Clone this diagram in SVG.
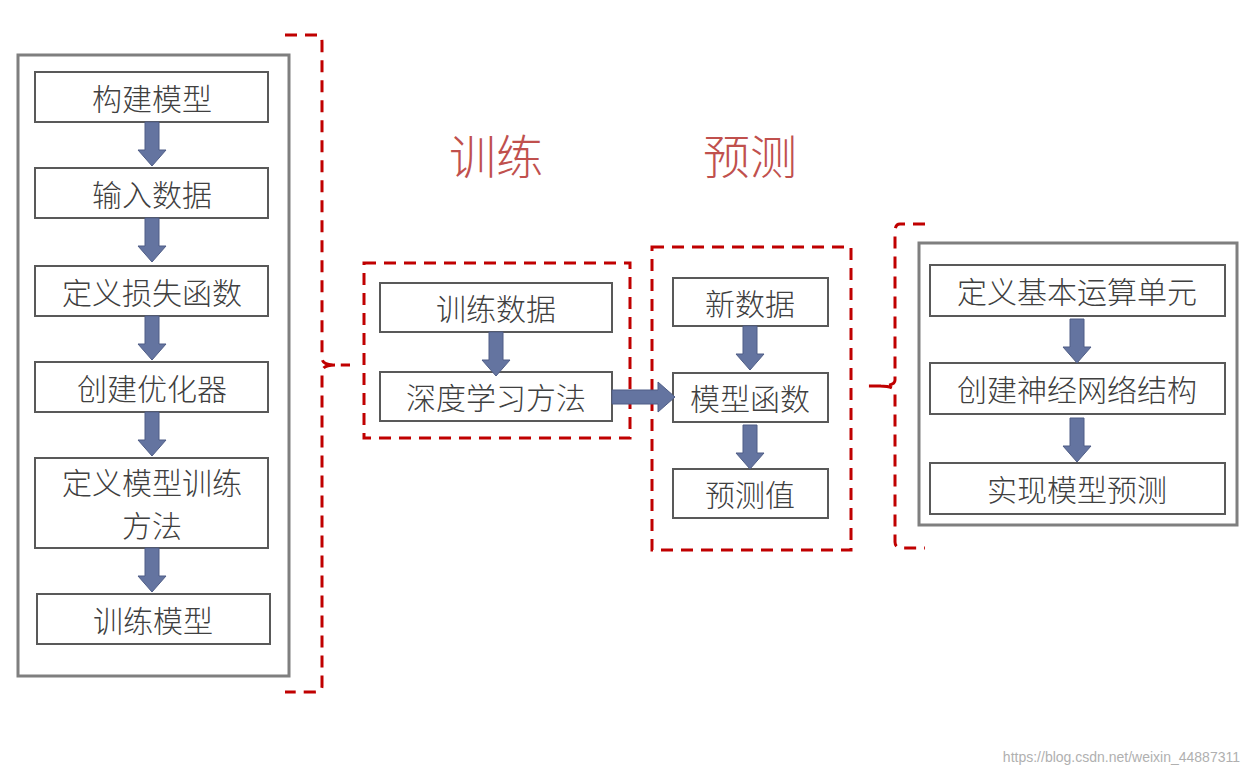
<svg xmlns="http://www.w3.org/2000/svg" width="1250" height="776" viewBox="0 0 1250 776">
<style>
.box{fill:#fff;stroke:#595959;stroke-width:2}
.outer{fill:#fff;stroke:#7f7f7f;stroke-width:3}
.dash{fill:none;stroke:#c00000;stroke-width:3;stroke-dasharray:12 8}
.t{font-family:"Noto Sans CJK SC",sans-serif;font-size:30px;font-weight:300;fill:#404040;text-anchor:middle;dominant-baseline:central}
.h{font-family:"Noto Sans CJK SC",sans-serif;font-size:47px;font-weight:300;fill:#c0504d;text-anchor:middle;dominant-baseline:central}
.ar{fill:#6474a0;stroke:#4f5d86;stroke-width:1}
</style>
<defs>
<path id="dn" d="M-7,0 H7 V28 H14 L0,44 L-14,28 H-7 Z"/>
</defs>
<rect width="1250" height="776" fill="#fff"/>
<g id="left">
<rect class="outer" x="18" y="55" width="271" height="621"/>
<g id="n1"><rect class="box" x="35" y="72" width="233" height="50"/><text class="t" x="152" y="97">构建模型</text></g>
<g id="n2"><rect class="box" x="35" y="168" width="233" height="50"/><text class="t" x="152" y="193">输入数据</text></g>
<g id="n3"><rect class="box" x="35" y="266" width="233" height="50"/><text class="t" x="152" y="291">定义损失函数</text></g>
<g id="n4"><rect class="box" x="35" y="362" width="233" height="50"/><text class="t" x="152" y="387">创建优化器</text></g>
<g id="n5"><rect class="box" x="35" y="458" width="233" height="90"/><text class="t" x="152" y="481" font-size="28">定义模型训练</text><text class="t" x="152" y="524" font-size="28">方法</text></g>
<g id="n6"><rect class="box" x="37" y="594" width="233" height="50"/><text class="t" x="153" y="619">训练模型</text></g>
</g>
<g id="train">
<rect class="dash" x="364" y="263" width="266" height="175"/>
<g id="n7"><rect class="box" x="380" y="283" width="232" height="49"/><text class="t" x="496" y="307">训练数据</text></g>
<g id="n8"><rect class="box" x="380" y="372" width="232" height="49"/><text class="t" x="496" y="396">深度学习方法</text></g>
</g>
<g id="predict">
<rect class="dash" x="652" y="247" width="199" height="303"/>
<g id="n9"><rect class="box" x="673" y="278" width="155" height="48"/><text class="t" x="750" y="302">新数据</text></g>
<g id="n10"><rect class="box" x="673" y="373" width="155" height="49"/><text class="t" x="750" y="397">模型函数</text></g>
<g id="n11"><rect class="box" x="673" y="469" width="155" height="49"/><text class="t" x="750" y="493">预测值</text></g>
</g>
<g id="right">
<rect class="outer" x="919" y="243" width="318" height="282"/>
<g id="n12"><rect class="box" x="930" y="265" width="295" height="51"/><text class="t" x="1077" y="290">定义基本运算单元</text></g>
<g id="n13"><rect class="box" x="930" y="363" width="295" height="51"/><text class="t" x="1077" y="388">创建神经网络结构</text></g>
<g id="n14"><rect class="box" x="930" y="463" width="295" height="51"/><text class="t" x="1077" y="488">实现模型预测</text></g>
</g>
<g id="labels">
<text class="h" x="496" y="153">训练</text>
<text class="h" x="750" y="153">预测</text>
</g>
<g id="connectors">
<path class="dash" d="M285,35 H318 Q322,35 322,42 V358 Q322,365 335,365 H350 M335,365 Q322,365 322,372 V686 Q322,692 315,692 H285"/>
<path class="dash" d="M925,224 H900 Q895,224 895,232 V380 Q895,386 880,386 H865 M880,386 Q895,386 895,392 V542 Q895,548 902,548 H925"/>
<use href="#dn" class="ar" x="152" y="122"/>
<use href="#dn" class="ar" x="152" y="218"/>
<use href="#dn" class="ar" x="152" y="316"/>
<use href="#dn" class="ar" x="152" y="412"/>
<use href="#dn" class="ar" x="152" y="548"/>
<use href="#dn" class="ar" x="496" y="332"/>
<use href="#dn" class="ar" x="750" y="326"/>
<use href="#dn" class="ar" x="750" y="425"/>
<use href="#dn" class="ar" x="1077" y="319"/>
<use href="#dn" class="ar" x="1077" y="418"/>
<path class="ar" d="M612,390 H658 V382 L675,397 L658,412 V404 H612 Z"/>
</g>
<text x="1240" y="762" font-family="Liberation Sans,sans-serif" font-size="14" fill="#b0b0b0" text-anchor="end">https://blog.csdn.net/weixin_44887311</text>
</svg>
